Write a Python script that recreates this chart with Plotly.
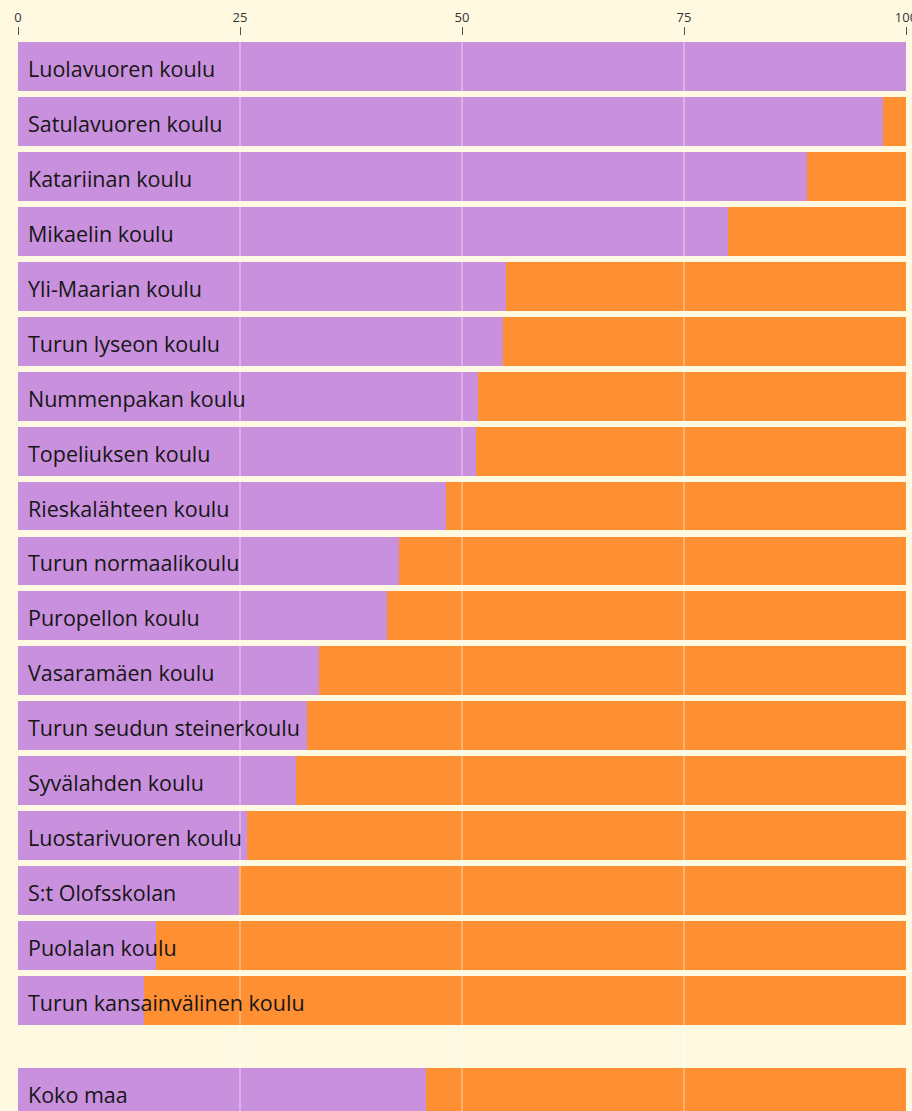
import plotly.graph_objects as go

# ---- data ----
schools = [
    "Luolavuoren koulu", "Satulavuoren koulu", "Katariinan koulu", "Mikaelin koulu",
    "Yli-Maarian koulu", "Turun lyseon koulu", "Nummenpakan koulu", "Topeliuksen koulu",
    "Rieskalähteen koulu", "Turun normaalikoulu", "Puropellon koulu", "Vasaramäen koulu",
    "Turun seudun steinerkoulu", "Syvälahden koulu", "Luostarivuoren koulu",
    "S:t Olofsskolan", "Puolalan koulu", "Turun kansainvälinen koulu",
]
share_purple = [100.0, 97.4, 88.9, 79.9, 54.9, 54.6, 51.8, 51.6, 48.2, 42.9,
                41.6, 33.9, 32.6, 31.3, 25.8, 24.9, 15.5, 14.2]
share_orange = [0.0, 2.6, 11.1, 20.1, 45.1, 45.4, 48.2, 48.4, 51.8, 57.1,
                58.4, 66.1, 67.4, 68.7, 74.2, 75.1, 84.5, 85.8]

national = ["Koko maa"]
national_purple = [46.0]
national_orange = [54.0]

tick_vals = [0, 25, 50, 75, 100]
tick_text = ["0", "25", "50", "75", "100"]
grid_vals = [25, 50, 75]

# ---- style ----
BG = "#FFF9E2"
PURPLE = "#C990DD"
ORANGE = "#FF8F33"
TEXT = "#161616"
FONT = "Open Sans"

W, H = 912, 1111

# target positions in page pixels
plot_left = 18
plot_right = 906
plot_top = 36
main_bottom = 1028
kk_top = 1040
kk_center = 1092.8
pitch_px = 54.94

M_T, M_B, M_L, M_R = plot_top, 0, plot_left, W - plot_right
paper_h = H - M_T - M_B

fig = go.Figure()
fig.add_trace(go.Bar(y=schools, x=share_purple, orientation="h", marker_color=PURPLE,
                     marker_line_width=0, xaxis="x", yaxis="y", hoverinfo="skip"))
fig.add_trace(go.Bar(y=schools, x=share_orange, orientation="h", marker_color=ORANGE,
                     marker_line_width=0, xaxis="x", yaxis="y", hoverinfo="skip"))
fig.add_trace(go.Bar(y=national, x=national_purple, orientation="h", marker_color=PURPLE,
                     marker_line_width=0, xaxis="x", yaxis="y2", hoverinfo="skip"))
fig.add_trace(go.Bar(y=national, x=national_orange, orientation="h", marker_color=ORANGE,
                     marker_line_width=0, xaxis="x", yaxis="y2", hoverinfo="skip"))

label_font = dict(family=FONT, size=21.5, color=TEXT, weight=500)
annotations = []
for s in schools:
    annotations.append(dict(x=0, y=s, xref="x", yref="y", text=s, showarrow=False,
                            xanchor="left", yanchor="middle", xshift=8, yshift=-2,
                            font=label_font))
for s in national:
    annotations.append(dict(x=0, y=s, xref="x", yref="y2", text=s, showarrow=False,
                            xanchor="left", yanchor="middle", xshift=8, yshift=-2,
                            font=label_font))

shapes = [dict(type="line", xref="x", yref="paper", x0=g, x1=g, y0=0, y1=1,
               line=dict(color="rgba(255,255,255,0.4)", width=1.5), layer="above")
          for g in grid_vals]

n = len(schools)
main_dom0 = (H - main_bottom) / paper_h
kk_dom1 = (H - kk_top) / paper_h

fig.update_layout(
    width=W, height=H,
    margin=dict(t=M_T, b=M_B, l=M_L, r=M_R, pad=0),
    paper_bgcolor=BG, plot_bgcolor=BG,
    barmode="stack", bargap=0.11, showlegend=False,
    annotations=annotations, shapes=shapes,
    xaxis=dict(range=[0, 100], side="top", anchor="y", tickvals=tick_vals, ticktext=tick_text,
               ticks="outside", ticklen=8, tickwidth=1, tickcolor="#555555",
               tickfont=dict(family=FONT, size=13, color="#333333"),
               ticklabeloverflow="allow", automargin=False,
               showgrid=False, zeroline=False, showline=False, fixedrange=True),
    yaxis=dict(domain=[main_dom0, 1], anchor="x", type="category",
               range=[n - 0.5, -0.5 - 3.03 / pitch_px], fixedrange=True,
               showticklabels=False, ticks="", showgrid=False, zeroline=False, showline=False),
    yaxis2=dict(domain=[0, kk_dom1], anchor="x", type="category", fixedrange=True,
                range=[(H - kk_center) / pitch_px, -(kk_center - kk_top) / pitch_px],
                showticklabels=False, ticks="", showgrid=False, zeroline=False, showline=False),
)

page_css = (
    "document.documentElement.style.margin='0';"
    "document.documentElement.style.overflow='hidden';"
    "document.body.style.margin='0';"
    "document.body.style.overflow='hidden';"
    "document.body.style.background='" + BG + "';"
)

fig.write_html("out.html", post_script=page_css, config={"displayModeBar": False})
